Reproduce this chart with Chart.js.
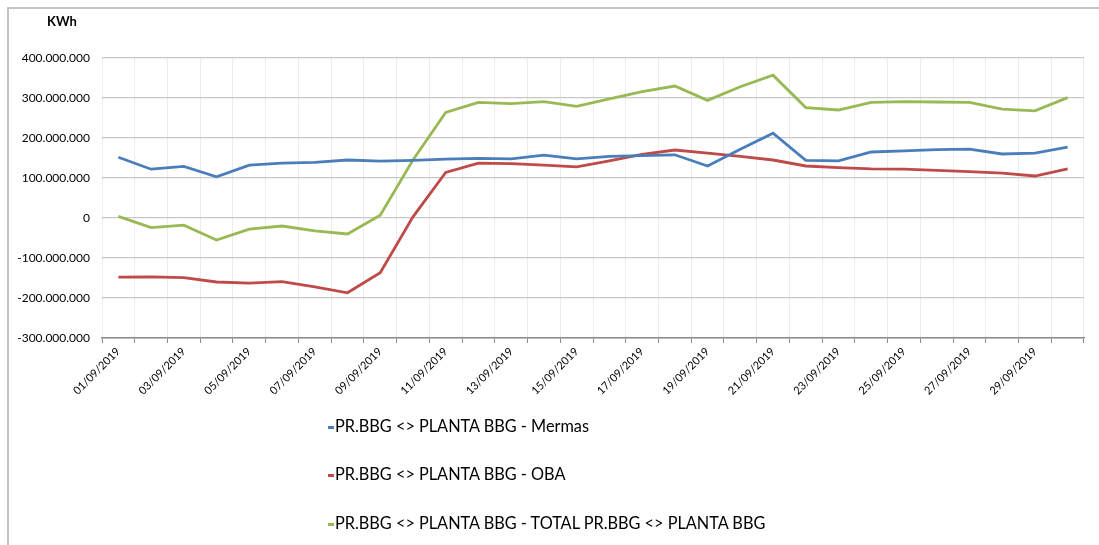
<!DOCTYPE html>
<html>
<head>
<meta charset="utf-8">
<script src="https://cdn.jsdelivr.net/npm/chart.js@4"></script>
<style>
    html, body { margin: 0; padding: 0; background: #fff; }
    #wrap { position: relative; width: 1099px; height: 545px; overflow: hidden; font-family: Lato, sans-serif; }
    #frame { position: absolute; left: 7px; top: 7px; right: -10px; bottom: -10px; border-top: 2px solid #c4c4c4; border-left: 2px solid #c4c4c4; }
    #unit { position: absolute; left: 47px; top: 13px; font-weight: bold; font-size: 13px; color: #000; }
    #legend { position: absolute; left: 328px; top: 0; }
    .item { position: absolute; left: 0; white-space: nowrap; font-size: 16.3px; color: #000; line-height: 18px; }
    .item span.mark { display: inline-block; width: 6px; height: 3px; vertical-align: middle; margin-right: 1px; }
    canvas { position: absolute; left: 0; top: 0; }
</style>
</head>
<body>
<div id="wrap">
    <div id="frame"></div>
    <canvas id="kwhChart" width="1099" height="545"></canvas>
    <div id="unit">KWh</div>
    <div id="legend"></div>
</div>
<script>
const days = [
    '01/09/2019', '02/09/2019', '03/09/2019', '04/09/2019', '05/09/2019', '06/09/2019',
    '07/09/2019', '08/09/2019', '09/09/2019', '10/09/2019', '11/09/2019', '12/09/2019',
    '13/09/2019', '14/09/2019', '15/09/2019', '16/09/2019', '17/09/2019', '18/09/2019',
    '19/09/2019', '20/09/2019', '21/09/2019', '22/09/2019', '23/09/2019', '24/09/2019',
    '25/09/2019', '26/09/2019', '27/09/2019', '28/09/2019', '29/09/2019', '30/09/2019'
];

const mermas = [
    152000000, 122000000, 129000000, 103000000, 132000000, 137000000,
    139000000, 145000000, 142000000, 144000000, 147000000, 149000000,
    148000000, 157000000, 148000000, 154000000, 156000000, 158000000,
    130000000, 172000000, 212000000, 144000000, 143000000, 165000000,
    168000000, 171000000, 172000000, 160000000, 162000000, 177000000
];

const oba = [
    -148000000, -147000000, -149000000, -160000000, -163000000, -159000000,
    -172000000, -187000000, -137000000, 3000000, 114000000, 137000000,
    136000000, 132000000, 128000000, 143000000, 159000000, 170000000,
    162000000, 154000000, 145000000, 130000000, 126000000, 123000000,
    122000000, 119000000, 116000000, 112000000, 105000000, 123000000
];

const total = [
    4000000, -24000000, -18000000, -55000000, -28000000, -20000000,
    -32000000, -40000000, 7000000, 145000000, 264000000, 289000000,
    286000000, 291000000, 279000000, 298000000, 316000000, 330000000,
    294000000, 328000000, 357000000, 276000000, 270000000, 289000000,
    291000000, 290000000, 289000000, 272000000, 268000000, 301000000
];

const seriesNames = [
    'PR.BBG <> PLANTA BBG - Mermas',
    'PR.BBG <> PLANTA BBG - OBA',
    'PR.BBG <> PLANTA BBG - TOTAL PR.BBG <> PLANTA BBG'
];
const seriesColors = ['#4a7ebb', '#be4b48', '#98b954'];

// thousands with dots, like the spanish excel export
function formatKwh(value) {
    if (value === 0) return '0';
    const s = String(Math.abs(value)).replace(/\B(?=(\d{3})+(?!\d))/g, '.');
    return (value < 0 ? '-' : '') + s;
}

const values = [mermas, oba, total];

Chart.defaults.font.family = 'Lato, sans-serif';
Chart.defaults.color = '#000';

const ctx = document.getElementById('kwhChart').getContext('2d');

const chart = new Chart(ctx, {
    type: 'line',
    data: {
        labels: days,
        datasets: values.map((data, i) => ({
            label: seriesNames[i],
            data: data,
            borderColor: seriesColors[i],
            backgroundColor: seriesColors[i],
            borderWidth: 2.8,
            pointRadius: 0,
            tension: 0,
            fill: false
        }))
    },
    options: {
        responsive: false,
        animation: false,
        layout: {
            padding: { left: 0, right: 15, top: 58, bottom: 0 }
        },
        plugins: {
            legend: { display: false },
            title: { display: false },
            tooltip: { enabled: false }
        },
        scales: {
            x: {
                offset: true,
                grid: {
                    offset: true,
                    color: '#ececec',
                    tickColor: '#8a8a8a',
                    tickLength: 5,
                    drawTicks: true
                },
                border: { color: '#8a8a8a', width: 1.5 },
                ticks: {
                    autoSkip: false,
                    minRotation: 45,
                    maxRotation: 45,
                    padding: 2,
                    font: { size: 11 },
                    callback: function (value, index) {
                        return index % 2 === 0 ? this.getLabelForValue(value) : '';
                    }
                },
                afterFit: (scale) => { scale.height = 545 - 338; }
            },
            y: {
                min: -300000000,
                max: 400000000,
                grid: {
                    color: '#c8c8c8',
                    lineWidth: 1.3,
                    drawTicks: false
                },
                border: { display: false },
                ticks: {
                    stepSize: 100000000,
                    padding: 12,
                    font: { size: 12 },
                    callback: (value) => formatKwh(value)
                },
                afterFit: (scale) => { scale.width = 102; }
            }
        }
    }
});

// legend as plain html, one line per series
const legendTops = [417, 465, 514];
const legend = document.getElementById('legend');
seriesNames.forEach((name, i) => {
    const item = document.createElement('div');
    item.className = 'item';
    item.style.top = legendTops[i] + 'px';
    item.innerHTML = '<span class="mark" style="background:' + seriesColors[i] + '"></span>';
    item.appendChild(document.createTextNode(name));
    legend.appendChild(item);
});
</script>
</body>
</html>
